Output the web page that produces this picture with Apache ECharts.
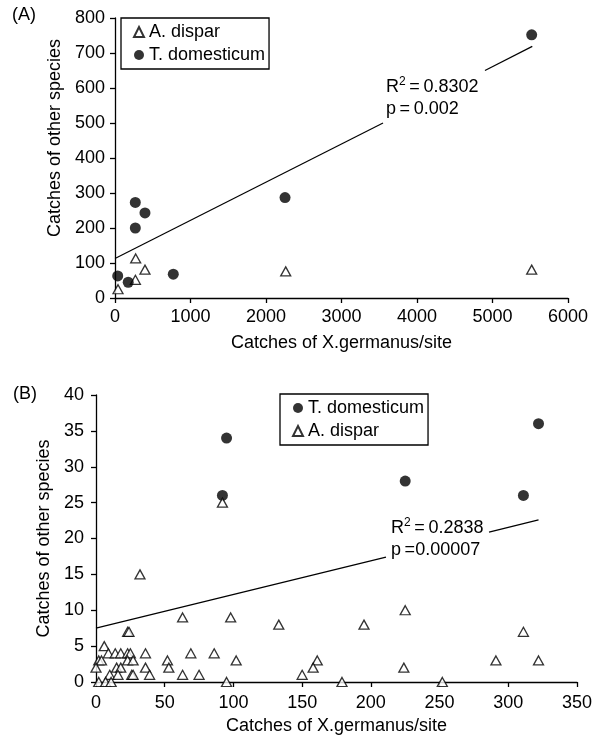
<!DOCTYPE html>
<html>
<head>
<meta charset="utf-8">
<script src="https://cdn.jsdelivr.net/npm/echarts@6/dist/echarts.min.js"></script>
<style>
  html, body { margin: 0; padding: 0; background: #fff; }
  #chart { width: 597px; height: 739px; }
</style>
</head>
<body>
<div id="chart"></div>
<script>
// (A) catches per site
const A_DISPAR_A = [[40, 25], [270, 52], [274, 113], [397, 81], [2261, 76], [5519, 81]];
const T_DOM_A = [[36, 63], [175, 45], [269, 273], [269, 200], [397, 243], [772, 68], [2252, 287], [5519, 752]];
// regression line, split where the label sits
const FIT_A_LEFT = [[0, 113], [3550, 500]];
const FIT_A_RIGHT = [[4900, 650], [5527, 719]];

// (B)
const T_DOM_B = [[92, 26], [95, 34], [225, 28], [311, 26], [322, 36]];
const A_DISPAR_B = [
  [32, 15], [92, 25], [225, 10], [63, 9], [98, 9], [133, 8], [195, 8],
  [23, 7], [24, 7], [311, 7], [6, 5],
  [9, 4], [14, 4], [18, 4], [23, 4], [25, 4], [36, 4], [69, 4], [86, 4],
  [2, 3], [4, 3], [23, 3], [27, 3], [52, 3], [102, 3], [161, 3], [291, 3], [322, 3],
  [0, 2], [15, 2], [18, 2], [36, 2], [53, 2], [158, 2], [224, 2],
  [10, 1], [16, 1], [26, 1], [27, 1], [39, 1], [63, 1], [75, 1], [150, 1],
  [2, 0], [7, 0], [11, 0], [95, 0], [179, 0], [252, 0]
];
const FIT_B_LEFT = [[0, 7.5], [211, 17.4]];
const FIT_B_RIGHT = [[286, 20.9], [322, 22.6]];

const X_NAME = 'Catches of X.germanus/site';
const Y_NAME = 'Catches of other species';
const FONT = '"Liberation Sans", Arial, Helvetica, sans-serif';
const FS = 18;

const TRI_STYLE = { color: '#fff', borderColor: '#000', borderWidth: 1.3 };
const DOT_STYLE = { color: '#000' };

function axis(gridIndex, min, max, interval, name, gap, margin, extra) {
  return Object.assign({
    gridIndex: gridIndex,
    type: 'value',
    min: min,
    max: max,
    interval: interval,
    name: name,
    nameLocation: 'middle',
    nameGap: gap,
    nameTextStyle: { fontFamily: FONT, fontSize: FS, color: '#000' },
    splitLine: { show: false },
    axisLine: { show: true, onZero: false, lineStyle: { color: '#000', width: 1.3 } },
    axisTick: { show: true, length: 5, lineStyle: { color: '#000', width: 1.3 } },
    axisLabel: { fontFamily: FONT, fontSize: FS, color: '#000', margin: margin, formatter: v => String(v) }
  }, extra || {});
}

function fitLine(xi, data) {
  return {
    type: 'line', xAxisIndex: xi, yAxisIndex: xi, data: data,
    showSymbol: false, silent: true,
    lineStyle: { color: '#000', width: 1.2 }
  };
}

function supText(left, top, r2, p) {
  return {
    type: 'text', left: left, top: top, silent: true,
    style: {
      text: '{r|R}{s|2}{r|\u2009=\u20090.' + r2 + '}\n{r|' + p + '}',
      rich: {
        r: { fontFamily: FONT, fontSize: FS, fill: '#000', lineHeight: 22 },
        s: { fontFamily: FONT, fontSize: 12, fill: '#000', lineHeight: 12, verticalAlign: 'top' }
      }
    }
  };
}

const chart = echarts.init(document.getElementById('chart'));
chart.setOption({
  animation: false,
  textStyle: { fontFamily: FONT },
  grid: [
    { left: 115, top: 18, width: 453, height: 280, outerBoundsMode: 'none' },
    { left: 96, top: 395, width: 481, height: 287, outerBoundsMode: 'none' }
  ],
  xAxis: [
    axis(0, 0, 6000, 1000, X_NAME, 36, 10),
    axis(1, 0, 350, 50, X_NAME, 35, 12)
  ],
  yAxis: [
    axis(0, 0, 800, 100, Y_NAME, 51, 10, { nameTextStyle: { fontFamily: FONT, fontSize: FS, color: '#000', padding: [0, 0, 0, 40] } }),
    axis(1, 0, 40, 5, Y_NAME, 43, 12)
  ],
  legend: [
    {
      data: ['A. dispar', 'T. domesticum'],
      orient: 'vertical', left: 121, top: 18,
      padding: [5, 4, 5, 12], itemGap: 5,
      itemWidth: 10, itemHeight: 10,
      borderColor: '#000', borderWidth: 1.3,
      textStyle: { fontFamily: FONT, fontSize: FS, color: '#000' },
      selectedMode: false
    },
    {
      data: ['T. domesticum', 'A. dispar'],
      orient: 'vertical', left: 280, top: 394,
      padding: [5, 4, 5, 12], itemGap: 5,
      itemWidth: 10, itemHeight: 10,
      borderColor: '#000', borderWidth: 1.3,
      textStyle: { fontFamily: FONT, fontSize: FS, color: '#000' },
      selectedMode: false
    }
  ],
  series: [
    { name: 'A. dispar', type: 'scatter', xAxisIndex: 0, yAxisIndex: 0, data: A_DISPAR_A,
      symbol: 'triangle', symbolSize: [10, 9], itemStyle: TRI_STYLE },
    { name: 'T. domesticum', type: 'scatter', xAxisIndex: 0, yAxisIndex: 0, data: T_DOM_A,
      symbol: 'circle', symbolSize: 11, itemStyle: DOT_STYLE },
    fitLine(0, FIT_A_LEFT),
    fitLine(0, FIT_A_RIGHT),
    { name: 'T. domesticum', type: 'scatter', xAxisIndex: 1, yAxisIndex: 1, data: T_DOM_B,
      symbol: 'circle', symbolSize: 11, itemStyle: DOT_STYLE },
    { name: 'A. dispar', type: 'scatter', xAxisIndex: 1, yAxisIndex: 1, data: A_DISPAR_B,
      symbol: 'triangle', symbolSize: [10, 9], itemStyle: TRI_STYLE },
    fitLine(1, FIT_B_LEFT),
    fitLine(1, FIT_B_RIGHT)
  ],
  graphic: [
    { type: 'text', left: 12, top: 6, style: { text: '(A)', fontFamily: FONT, fontSize: FS, fill: '#000' } },
    { type: 'text', left: 13, top: 385, style: { text: '(B)', fontFamily: FONT, fontSize: FS, fill: '#000' } },
    supText(386, 76, '8302', 'p\u2009=\u20090.002'),
    supText(391, 517, '2838', 'p\u2009=0.00007')
  ]
});
</script>
</body>
</html>
